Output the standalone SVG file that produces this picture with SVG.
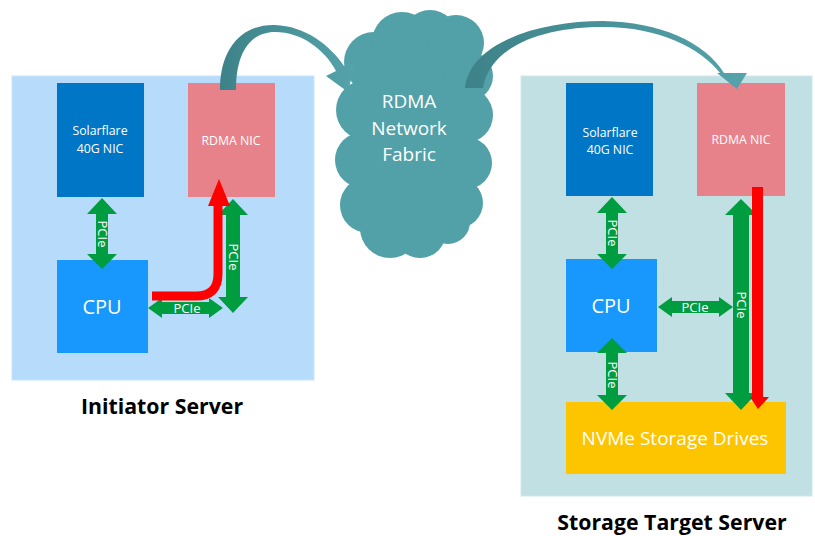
<svg xmlns="http://www.w3.org/2000/svg" width="815" height="536" viewBox="0 0 815 536">
<defs>
<style>
.t{font-family:"Open Sans","Liberation Sans",sans-serif;fill:#ffffff;text-anchor:middle}
.lbl{font-family:"Open Sans","Liberation Sans",sans-serif;fill:#000000;text-anchor:middle;font-weight:bold;font-size:21.3px}
.pcie{font-family:"Open Sans","Liberation Sans",sans-serif;fill:#ffffff;text-anchor:middle;font-size:13px}
.g{fill:#009c40}
.red{fill:#ff0000}
.sf{fill:#0077c6}
.nic{fill:#e8828a}
.cpu{fill:#1897fc}
.cloud{fill:#52a0a8}
</style>
<linearGradient id="arcg1" x1="0" y1="0" x2="1" y2="0">
<stop offset="0" stop-color="#3d8288"/>
<stop offset="1" stop-color="#55a3ab"/>
</linearGradient>
<linearGradient id="arcg2" x1="0" y1="0" x2="1" y2="0">
<stop offset="0" stop-color="#3d8288"/>
<stop offset="1" stop-color="#55a3ab"/>
</linearGradient>
</defs>
<rect width="815" height="536" fill="#ffffff"/>

<g id="initiator-server">
<rect x="12" y="76" width="302" height="304" fill="#b7dcfb" stroke="#c8e4fc" stroke-width="1"/>
<text class="lbl" x="162" y="414">Initiator Server</text>
</g>
<g id="storage-target-server">
<rect x="521" y="76" width="291" height="420" fill="#c0e0e3" stroke="#d0e8ea" stroke-width="1"/>
<text class="lbl" x="672" y="530">Storage Target Server</text>
</g>

<g id="cloud">
<g class="cloud">
<ellipse cx="415" cy="140" rx="60" ry="95"/>
<circle cx="374" cy="62" r="30"/>
<circle cx="402" cy="42" r="30"/>
<circle cx="430" cy="38" r="28"/>
<circle cx="456" cy="43" r="28"/>
<circle cx="468" cy="76" r="25"/>
<circle cx="366" cy="110" r="30"/>
<circle cx="363" cy="160" r="28"/>
<circle cx="368" cy="205" r="28"/>
<circle cx="465" cy="115" r="28"/>
<circle cx="466" cy="163" r="26"/>
<circle cx="458" cy="203" r="25"/>
<circle cx="390" cy="228" r="30"/>
<circle cx="420" cy="232" r="26"/>
<circle cx="448" cy="222" r="22"/>
</g>
<text class="t" font-size="19" x="409" y="108">RDMA</text>
<text class="t" font-size="19" x="409" y="135">Network</text>
<text class="t" font-size="19" x="409" y="161">Fabric</text>
</g>

<g id="init-solarflare">
<rect class="sf" x="57" y="83" width="87" height="114"/>
<text class="t" font-size="12.3" x="100" y="135">Solarflare</text>
<text class="t" font-size="12.3" x="100" y="153">40G NIC</text>
</g>
<g id="init-rdma-nic">
<rect class="nic" x="188" y="83" width="87" height="114"/>
<text class="t" font-size="12.3" x="231" y="145">RDMA NIC</text>
</g>
<g id="init-cpu">
<rect class="cpu" x="57" y="260" width="91" height="93"/>
<text class="t" font-size="20" x="102" y="314">CPU</text>
</g>

<g id="tgt-solarflare">
<rect class="sf" x="566" y="83" width="87" height="113"/>
<text class="t" font-size="12.3" x="610" y="137">Solarflare</text>
<text class="t" font-size="12.3" x="610" y="154">40G NIC</text>
</g>
<g id="tgt-rdma-nic">
<rect class="nic" x="697" y="83" width="88" height="113"/>
<text class="t" font-size="12.3" x="741" y="144">RDMA NIC</text>
</g>
<g id="tgt-cpu">
<rect class="cpu" x="566" y="259" width="91" height="93"/>
<text class="t" font-size="20" x="611" y="313">CPU</text>
</g>
<g id="tgt-nvme">
<rect x="566" y="402" width="220" height="72" fill="#fdc400"/>
<text class="t" font-size="19" x="675" y="445">NVMe Storage Drives</text>
</g>

<g id="connectors">
<path fill="url(#arcg1)" d="M220,90 C220,45 245,24 275,25 C305,26 330,45 344,66 L355,63 L348,92 L326,76 L336,71 C325,50 302,32 275,32 C252,32 236,50 236,90 Z"/>
<path fill="url(#arcg2)" d="M465,88 C470,42 540,21 603,21 C660,22 705,42 724,73 L747,73 L737,89 L717,73 L720,73 C700,48 660,27 603,27 C545,27 490,45 483,88 Z"/>

<polygon class="g" points="102,198 117,214 108,214 108,254 117,254 102,269 87,254 96,254 96,214 87,214"/>
<text class="pcie" transform="translate(102,234) rotate(90)" dy="4.5">PCIe</text>
<polygon class="g" points="148,308 162,298 162,302 209,302 209,298 223,308 209,318 209,314 162,314 162,318"/>
<text class="pcie" x="187" y="313">PCIe</text>
<polygon class="g" points="233,199 248,215 240,215 240,297 248,297 233,313 218,297 226,297 226,215 218,215"/>
<text class="pcie" transform="translate(233,257) rotate(90)" dy="4.5">PCIe</text>
<path d="M152,296 H196 Q218,296 218,274 V203" fill="none" stroke="#ff0000" stroke-width="9"/>
<polygon class="red" points="208,206 230,206 219,179"/>

<polygon class="g" points="612,197 627,213 618,213 618,254 627,254 612,269 597,254 606,254 606,213 597,213"/>
<text class="pcie" transform="translate(612,233) rotate(90)" dy="4.5">PCIe</text>
<polygon class="g" points="658,307 672,297 672,301 719,301 719,297 733,307 719,317 719,313 672,313 672,317"/>
<text class="pcie" x="695" y="312">PCIe</text>
<polygon class="g" points="612,338 627,353 618,353 618,395 627,395 612,410 597,395 606,395 606,353 597,353"/>
<text class="pcie" transform="translate(612,375) rotate(90)" dy="4.5">PCIe</text>
<polygon class="g" points="741,199 757,215 749,215 749,393 757,393 741,410 725,393 733,393 733,215 725,215"/>
<text class="pcie" transform="translate(741,305) rotate(90)" dy="4.5">PCIe</text>
<rect class="red" x="752" y="187" width="11" height="211"/>
<polygon class="red" points="750,397 769,397 758,409"/>
</g>
</svg>
